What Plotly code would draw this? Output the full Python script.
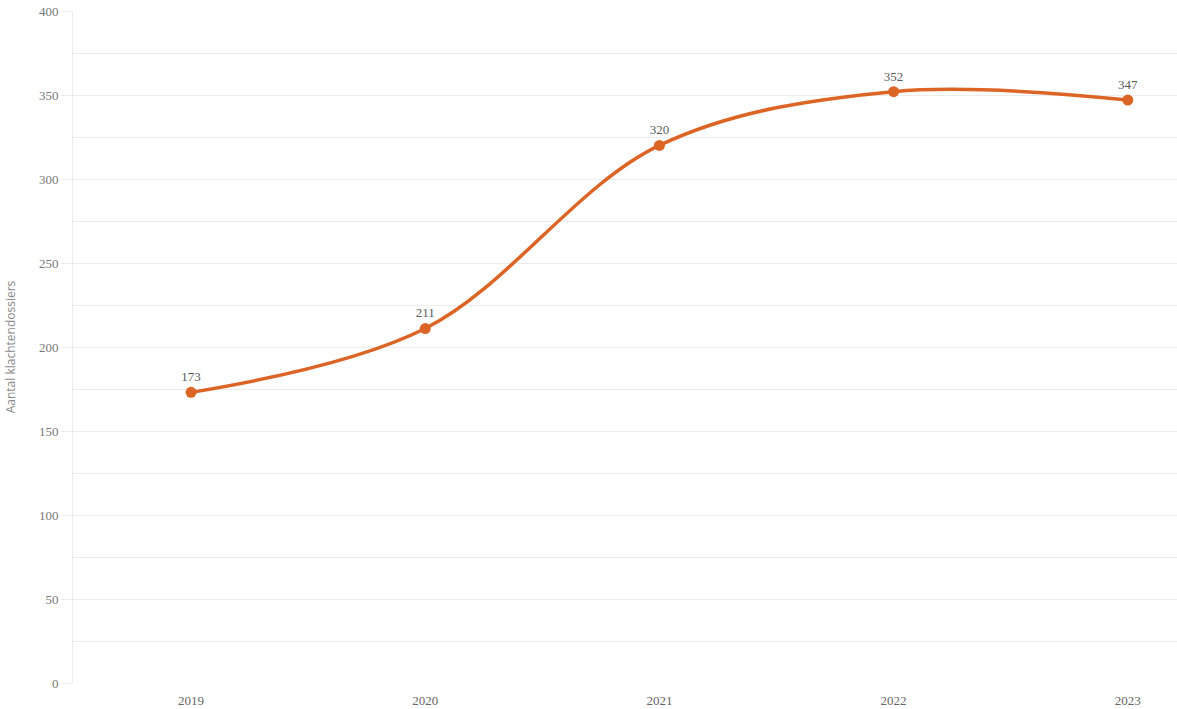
import plotly.graph_objects as go

years = ["2019", "2020", "2021", "2022", "2023"]
dossiers = [173, 211, 320, 352, 347]
y_ticks = [0, 50, 100, 150, 200, 250, 300, 350, 400]

x_pos = list(range(len(years)))
line_color = "#DC6526"
grid_color = "#ECECEC"

fig = go.Figure()
fig.add_trace(go.Scatter(
    x=x_pos,
    y=dossiers,
    mode="lines+markers+text",
    line=dict(color=line_color, width=3.5, shape="spline", smoothing=1.0),
    marker=dict(color=line_color, size=11),
    text=[str(v) for v in dossiers],
    textposition="top center",
    textfont=dict(family="Liberation Serif", size=13, color="#5a5a5a"),
    cliponaxis=False,
    hoverinfo="skip",
))

fig.update_layout(
    width=1177,
    height=709,
    margin=dict(l=73, r=0, t=11, b=26),
    paper_bgcolor="white",
    plot_bgcolor="white",
    showlegend=False,
)

fig.update_xaxes(
    range=[-0.504, 4.21],
    tickvals=x_pos,
    ticktext=years,
    showgrid=False,
    zeroline=False,
    showline=False,
    ticks="outside",
    ticklen=5,
    tickcolor="rgba(0,0,0,0)",
    automargin=False,
    tickfont=dict(family="Liberation Serif", size=13, color="#666666"),
)

fig.update_yaxes(
    range=[0, 400],
    tickvals=y_ticks,
    minor=dict(dtick=25, showgrid=True, gridcolor=grid_color, gridwidth=1),
    showgrid=True,
    gridcolor=grid_color,
    gridwidth=1,
    zeroline=False,
    showline=True,
    linecolor=grid_color,
    linewidth=1,
    ticks="outside",
    ticklen=11,
    tickcolor=grid_color,
    automargin=False,
    tickfont=dict(family="Liberation Serif", size=13, color="#777777"),
    title=dict(text="Aantal klachtendossiers", font=dict(family="Open Sans", size=12, color="#8a8a8a"), standoff=20),
)

fig.write_html("out.html")
